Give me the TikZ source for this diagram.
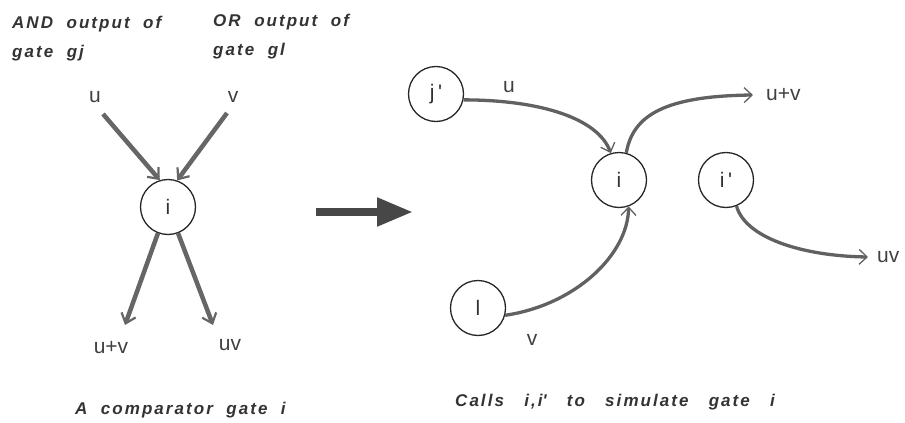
\documentclass[tikz,border=0pt]{standalone}
\usepackage{fontspec}
\setmainfont{Liberation Sans}
\newfontfamily\capfont[LetterSpace=12]{Liberation Sans}
\usetikzlibrary{arrows.meta}
\tikzset{
  gate/.style={circle,draw=black!85,line width=1.3pt,minimum size=55pt,inner sep=0pt,
    font=\fontsize{21}{21}\selectfont,text=black!80},
  lbl/.style={font=\fontsize{21}{21}\selectfont,text=black!75,inner sep=0pt},
  captxt/.style={font=\capfont\bfseries\itshape\fontsize{17}{29}\selectfont,align=left,
    inner sep=0pt,text=black!80},
  warr/.style={line width=4.5pt,draw=black!60,
    -{Straight Barb[length=9pt,width=15pt,line width=2.2pt]}},
  carr/.style={line width=3.3pt,draw=black!62,
    -{Straight Barb[length=8pt,width=15pt,line width=1.3pt]}},
  bigarr/.style={line width=8pt,draw=black!72,
    -{Triangle[length=36pt,width=27pt]}}
}
\begin{document}
\begin{tikzpicture}[x=1pt,y=-1pt]
\useasboundingbox (0,0) rectangle (905,423);
% headers
\node[captxt,anchor=north west] (hand) at (12,16) {AND\ \ output\ \ of\\gate\ \ gj};
\node[captxt,anchor=north west] (hor) at (213,14) {OR\ \ output\ \ of\\gate\ \ gl};
% left gate
\node[gate] (il) at (168,207) {i};
\node[lbl] (lu) at (95,97) {u};
\node[lbl] (lv) at (233,97) {v};
\coordinate (us) at (103,114);
\coordinate (vs) at (227,113);
\draw[warr] (us) -- (il.107);
\draw[warr] (vs) -- (il.71);
\coordinate (ue) at (125,325);
\coordinate (ve) at (213,325);
\draw[warr] (il.-111) -- (ue);
\draw[warr] (il.-69) -- (ve);
\node[lbl] (luv) at (111,348) {u+v};
\node[lbl] (luvp) at (230,345) {uv};
% big arrow
\coordinate (ba) at (316,212);
\coordinate (bb) at (413,212);
\draw[bigarr] (ba) -- (bb);
% right diagram
\node[gate] (jp) at (436,94) {j\,\textquotesingle};
\node[gate] (ir) at (619,180) {i};
\node[gate] (ip) at (726,180) {i\,\textquotesingle};
\node[gate] (gl) at (478,308) {l};
\node[lbl] (ru) at (509,87) {u};
\node[lbl] (rv) at (532,340) {v};
\coordinate (oa) at (753,95);
\coordinate (ob) at (868,257);
\node[lbl,anchor=west] (ruv) at (766,95) {u+v};
\node[lbl,anchor=west] (rprod) at (877,257) {uv};
\draw[carr] (jp.-12) .. controls (540,100) and (598,118) .. (ir.107);
\draw[carr] (ir.75) .. controls (633,115) and (665,96) .. (oa);
\draw[carr] (gl.-15) .. controls (575,305) and (628,255) .. (ir.-70);
\draw[carr] (ip.-68) .. controls (745,237) and (800,256) .. (ob);
% captions
\node[captxt,anchor=base west] (c1) at (75,414) {A\ \ comparator\ \ gate\ \ i};
\node[captxt,anchor=base west] (c2) at (455,406) {Calls\ \ \ i,i\textquotesingle\ \ \ to\ \ \ simulate\ \ \ gate\ \ \ i};
\end{tikzpicture}
\end{document}
